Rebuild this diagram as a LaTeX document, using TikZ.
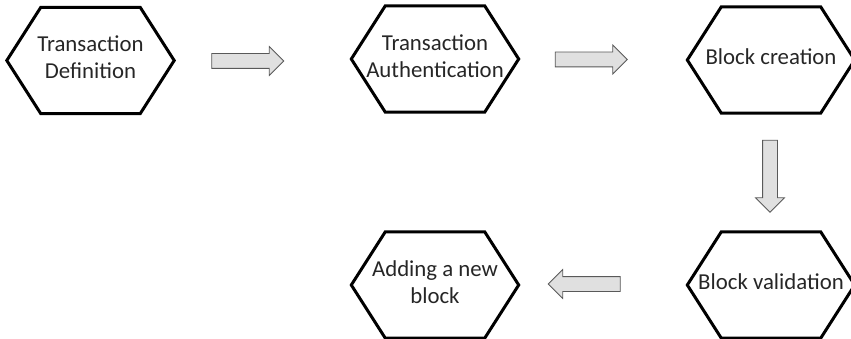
\documentclass[tikz,border=0pt]{standalone}
\usepackage{fontspec}
\setmainfont{Carlito}
\usetikzlibrary{shapes.arrows, positioning}
\tikzset{
  stepbox/.style={minimum width=167pt, minimum height=106pt, inner sep=0pt,
    align=center, font=\fontsize{22.8}{27}\selectfont, text=black!85},
  hexline/.style={line width=3pt, line join=miter},
  flowarrow/.style={single arrow, draw=black!65, fill=black!12, line width=0.8pt,
    inner xsep=0pt, inner ysep=7pt, single arrow head extend=7pt,
    single arrow head indent=0pt, minimum height=72pt}
}
\begin{document}
\begin{tikzpicture}[x=1pt, y=-1pt]
  \useasboundingbox (0,0) rectangle (851,339);
  % steps
  \node[stepbox] (def)  at (90.5,57.5) {Transaction\\Definition};
  \node[stepbox] (auth) at (435,56)    {Transaction\\Authentication};
  \node[stepbox] (crea) at (771,57)    {Block creation};
  \node[stepbox] (vali) at (771,282)   {Block validation};
  \node[stepbox] (addb) at (435,282)   {Adding a new\\block};
  % hexagon outlines
  \foreach \n in {def,auth,crea,vali,addb}
    \draw[hexline] ([yshift=-3pt]\n.west) -- ([xshift=34pt,yshift=-3pt]\n.north west)
      -- ([xshift=-34pt,yshift=-3pt]\n.north east) -- ([yshift=-3pt]\n.east)
      -- ([xshift=-34pt,yshift=-3pt]\n.south east) -- ([xshift=34pt,yshift=-3pt]\n.south west) -- cycle;
  % arrows between the steps
  \node[flowarrow] (a1) at (244,61)    {};
  \node[flowarrow] (a2) at (587.5,59.5) {};
  \node[flowarrow, rotate=-90] (a3) at (770,172.5) {};
  \node[flowarrow, rotate=180] (a4) at (588,284) {};
\end{tikzpicture}
\end{document}
